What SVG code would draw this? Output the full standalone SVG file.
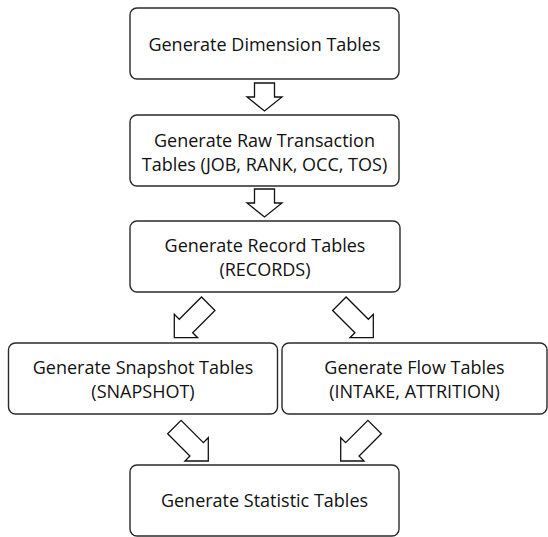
<svg xmlns="http://www.w3.org/2000/svg" width="548" height="537" viewBox="0 0 548 537">
<style>
.box{fill:#fff;stroke:#2a2a2a;stroke-width:1.4}
.arr{fill:#fff;stroke:#111;stroke-width:1.3;stroke-linejoin:miter}
text{font-family:"Open Sans","Noto Sans",sans-serif;font-size:18px;fill:#111;text-anchor:middle}
</style>
<defs>
<path id="diag" d="M0,0 L-16.5,-16.5 L-16.5,-9.5 L-48,-9.5 L-48,9.5 L-16.5,9.5 L-16.5,16.5 Z"/>
</defs>
<rect width="548" height="537" fill="#fff"/>
<g id="n1"><rect class="box" x="130" y="8" width="269" height="71" rx="7"/><text x="264.5" y="51">Generate Dimension Tables</text></g>
<g id="n2"><rect class="box" x="130" y="115" width="269" height="71" rx="7"/><text x="264.5" y="146.5">Generate Raw Transaction</text><text x="264.5" y="171">Tables (JOB, RANK, OCC, TOS)</text></g>
<g id="n3"><rect class="box" x="130" y="221" width="270" height="71" rx="7"/><text x="265" y="251.5">Generate Record Tables</text><text x="265" y="275.5">(RECORDS)</text></g>
<g id="n4"><rect class="box" x="8.5" y="343" width="269" height="71" rx="7"/><text x="143" y="374">Generate Snapshot Tables</text><text x="143" y="398">(SNAPSHOT)</text></g>
<g id="n5"><rect class="box" x="282" y="343" width="265" height="71" rx="7"/><text x="414.5" y="374">Generate Flow Tables</text><text x="414.5" y="398">(INTAKE, ATTRITION)</text></g>
<g id="n6"><rect class="box" x="130" y="465" width="269" height="71" rx="7"/><text x="264.5" y="506.5">Generate Statistic Tables</text></g>
<g id="connectors">
<path class="arr" d="M254.5,83 L274.5,83 L274.5,97 L282,97 L264.5,111 L247,97 L254.5,97 Z"/>
<path class="arr" d="M254.5,189 L274.5,189 L274.5,203 L282,203 L264.5,217 L247,203 L254.5,203 Z"/>
<use class="arr" href="#diag" transform="translate(174.3,337.7) rotate(135)"/>
<use class="arr" href="#diag" transform="translate(373.3,337.7) rotate(45)"/>
<use class="arr" href="#diag" transform="translate(208.3,461) rotate(45)"/>
<use class="arr" href="#diag" transform="translate(340.7,461) rotate(135)"/>
</g>
</svg>
